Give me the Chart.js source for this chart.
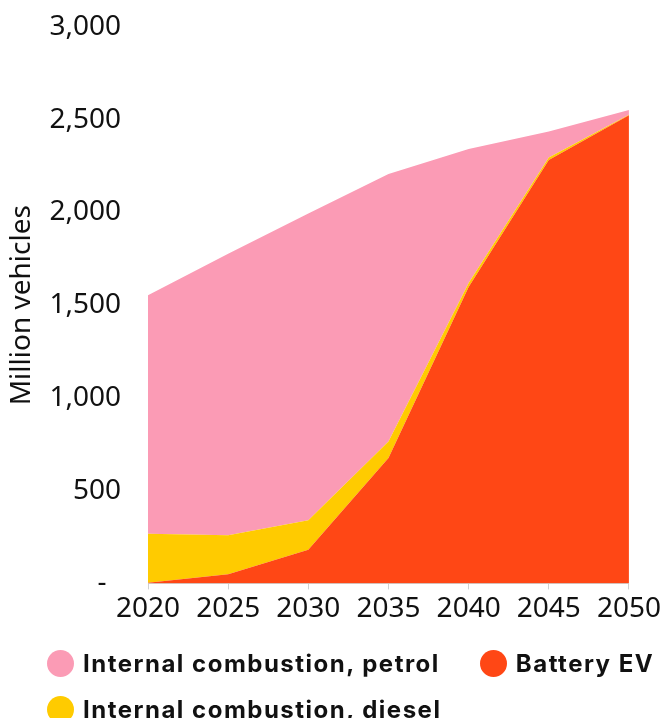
<!DOCTYPE html>
<html>
<head>
<meta charset="utf-8">
<script src="https://cdn.jsdelivr.net/npm/chart.js@4.4.1/dist/chart.umd.min.js"></script>
<style>
  html, body { margin: 0; padding: 0; background: #fff; overflow: hidden; }
  #wrap { position: relative; width: 664px; height: 718px; overflow: hidden; }
  #legend {
    position: absolute; left: 47px; top: 640px; width: 690px;
    display: flex; flex-wrap: wrap;
    font: bold 24px Inter, "Noto Sans", sans-serif; letter-spacing: 1.5px; color: #111;
  }
  .item { display: flex; align-items: center; height: 46px; margin-right: 40px; white-space: nowrap; }
  .dot { width: 27px; height: 27px; border-radius: 50%; margin-right: 9px; }
</style>
</head>
<body>
<div id="wrap">
  <canvas id="chart" width="664" height="718"></canvas>
  <div id="legend"></div>
</div>
<script>
  // Data (million vehicles)
  const years = ['2020', '2025', '2030', '2035', '2040', '2045', '2050'];
  const batteryEV = [3, 49, 182, 676, 1598, 2283, 2524];
  const diesel    = [265, 210, 159, 89, 22, 14, 3];
  const petrol    = [1285, 1519, 1654, 1442, 722, 139, 26];

  const yTicks = [0, 500, 1000, 1500, 2000, 2500, 3000];
  const legendOrder = ['Internal combustion, petrol', 'Battery EV', 'Internal combustion, diesel'];

  const COLORS = {
    bev: '#FF4715',
    diesel: '#FFCB00',
    petrol: '#FB9BB5'
  };

  const tickFont = { family: '"Noto Sans", sans-serif', size: 28 };

  const ds = (label, data, color, fill) => ({
    label, data, fill,
    backgroundColor: color,
    borderColor: color,
    borderWidth: 0,
    pointRadius: 0,
    tension: 0
  });

  const chart = new Chart(document.getElementById('chart'), {
    type: 'line',
    data: {
      labels: years,
      datasets: [
        ds('Battery EV', batteryEV, COLORS.bev, 'origin'),
        ds('Internal combustion, diesel', diesel, COLORS.diesel, '-1'),
        ds('Internal combustion, petrol', petrol, COLORS.petrol, '-1')
      ]
    },
    options: {
      responsive: false,
      animation: false,
      layout: { padding: { top: 27, right: 3, bottom: 89, left: 0 } },
      plugins: { legend: { display: false }, tooltip: { enabled: false } },
      scales: {
        x: {
          offset: false,
          grid: { display: true, drawOnChartArea: false, drawTicks: true, tickLength: 6, color: '#d0d0d0' },
          border: { display: true, color: '#d0d0d0', width: 1 },
          ticks: { color: '#111', font: tickFont, padding: 3, maxRotation: 0, autoSkip: false }
        },
        y: {
          stacked: true,
          min: 0,
          max: 3000,
          afterFit(scale) {
            scale.width = 148;
            scale.paddingTop = 0;
            scale.paddingBottom = 0;
          },
          afterBuildTicks(scale) { scale.ticks = yTicks.map(v => ({ value: v })); },
          grid: { display: false, drawTicks: false },
          border: { display: false },
          ticks: {
            color: '#111',
            font: tickFont,
            padding: 27,
            callback: v => v === 0 ? '-  ' : v.toLocaleString('en-US')
          },
          title: {
            display: true,
            text: 'Million vehicles',
            color: '#111',
            font: { family: '"Noto Sans", sans-serif', size: 28 },
            padding: { top: 5, bottom: 0 }
          }
        }
      }
    }
  });

  // HTML legend in the reference's order
  const legendEl = document.getElementById('legend');
  legendOrder.forEach(name => {
    const d = chart.data.datasets.find(x => x.label === name);
    if (!d) return;
    const item = document.createElement('div');
    item.className = 'item';
    item.innerHTML = `<span class="dot" style="background:${d.backgroundColor}"></span><span>${name}</span>`;
    legendEl.appendChild(item);
  });
</script>
</body>
</html>
